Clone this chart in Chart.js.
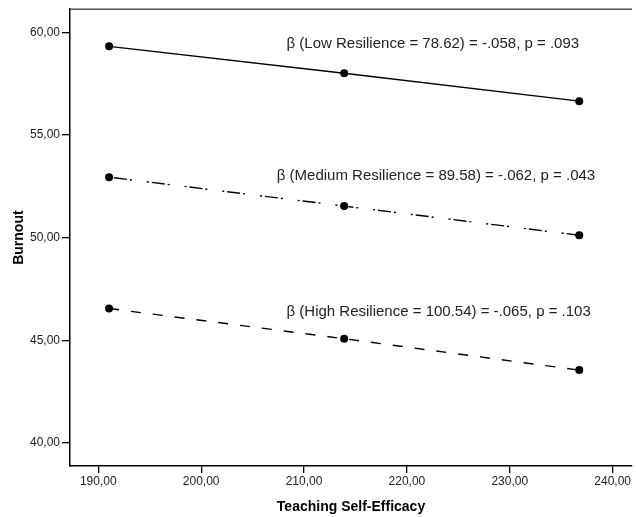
<!DOCTYPE html>
<html>
<head>
<meta charset="utf-8">
<script src="https://cdn.jsdelivr.net/npm/chart.js@4"></script>
<style>
  html, body { margin: 0; padding: 0; background: #fff; }
  #wrap { width: 636px; height: 517px; position: relative; }
</style>
</head>
<body>
<div id="wrap"><canvas id="chart"></canvas></div>
<script>
// ── Data ─────────────────────────────────────────────
const EFFICACY = [191.05, 213.9, 236.75];           // Teaching Self-Efficacy (-1SD, mean, +1SD)
const LOW_RES = [59.32, 58.01, 56.65];
const MED_RES = [52.95, 51.54, 50.12];
const HIGH_RES = [46.55, 45.08, 43.55];
const SERIES_NAMES = ['Low Resilience', 'Medium Resilience', 'High Resilience'];
const SERIES_NOTES = [
  'β (Low Resilience = 78.62) = -.058, p = .093',
  'β (Medium Resilience = 89.58) = -.062, p = .043',
  'β (High Resilience = 100.54) = -.065, p = .103'
];
const X_TICKS = [190, 200, 210, 220, 230, 240];
const Y_TICKS = [40, 45, 50, 55, 60];

const FONT = '"Liberation Sans", Arial, sans-serif';
const INK = '#000';

// where each note sits, in data units (left edge, vertical centre)
const NOTE_ANCHORS = [
  { x: 208.3, y: 59.45 },
  { x: 207.35, y: 53.03 },
  { x: 208.3, y: 46.39 }
];

const toPoints = (ys) => EFFICACY.map((x, i) => ({ x: x, y: ys[i] }));
const fmt = (v) => Number(v).toFixed(2).replace('.', ',');

function lineSet(label, ys, dash) {
  return {
    label: label,
    data: toPoints(ys),
    borderColor: INK,
    backgroundColor: INK,
    borderWidth: 1.4,
    borderDash: dash,
    pointRadius: 4,
    pointHoverRadius: 4,
    pointBackgroundColor: INK,
    pointBorderWidth: 0,
    tension: 0
  };
}

// notes + top frame line
const notesPlugin = {
  id: 'notes',
  afterDatasetsDraw(chart) {
    const { ctx, chartArea, scales } = chart;
    ctx.save();
    ctx.strokeStyle = '#555';
    ctx.lineWidth = 1.5;
    ctx.beginPath();
    ctx.moveTo(chartArea.left, chartArea.top);
    ctx.lineTo(chartArea.right, chartArea.top);
    ctx.stroke();

    ctx.fillStyle = '#222';
    ctx.font = '15px ' + FONT;
    ctx.textBaseline = 'middle';
    ctx.textAlign = 'left';
    SERIES_NOTES.forEach((txt, i) => {
      const a = NOTE_ANCHORS[i];
      ctx.fillText(txt, scales.x.getPixelForValue(a.x), scales.y.getPixelForValue(a.y));
    });
    ctx.restore();
  }
};

new Chart(document.getElementById('chart'), {
  type: 'line',
  data: {
    datasets: [
      lineSet(SERIES_NAMES[0], LOW_RES, []),
      lineSet(SERIES_NAMES[1], MED_RES, [2, 3, 13, 3, 2, 15]),
      lineSet(SERIES_NAMES[2], HIGH_RES, [10, 12])
    ]
  },
  options: {
    responsive: true,
    maintainAspectRatio: false,
    animation: false,
    layout: { padding: { top: 9, right: 0, left: 0, bottom: 0 } },
    plugins: {
      legend: { display: false },
      tooltip: { enabled: false }
    },
    scales: {
      x: {
        type: 'linear',
        min: 187.25,
        max: 241.88,
        afterBuildTicks: (axis) => { axis.ticks = X_TICKS.map(v => ({ value: v })); },
        afterFit: (axis) => { axis.height = 51; },
        grid: { drawOnChartArea: false, drawTicks: true, tickLength: 7, color: INK, lineWidth: 1.3 },
        border: { display: true, color: INK, width: 1.5 },
        ticks: {
          padding: 1,
          maxRotation: 0,
          autoSkip: false,
          color: '#222',
          font: { family: FONT, size: 12 },
          callback: (v) => fmt(v)
        },
        title: {
          display: true,
          text: 'Teaching Self-Efficacy',
          color: INK,
          font: { family: FONT, size: 14, weight: 'bold' },
          padding: { top: 4, bottom: 1 }
        }
      },
      y: {
        type: 'linear',
        min: 38.88,
        max: 61.13,
        afterBuildTicks: (axis) => { axis.ticks = Y_TICKS.map(v => ({ value: v })); },
        afterFit: (axis) => { axis.width = 70; },
        grid: { drawOnChartArea: false, drawTicks: true, tickLength: 8, color: INK, lineWidth: 1.3 },
        border: { display: true, color: INK, width: 1.5 },
        ticks: {
          padding: 2,
          autoSkip: false,
          color: '#222',
          font: { family: FONT, size: 12 },
          callback: (v) => fmt(v)
        },
        title: {
          display: true,
          text: 'Burnout',
          color: INK,
          font: { family: FONT, size: 14, weight: 'bold' },
          padding: { top: 11, bottom: 0 }
        }
      }
    }
  },
  plugins: [notesPlugin]
});
</script>
</body>
</html>
